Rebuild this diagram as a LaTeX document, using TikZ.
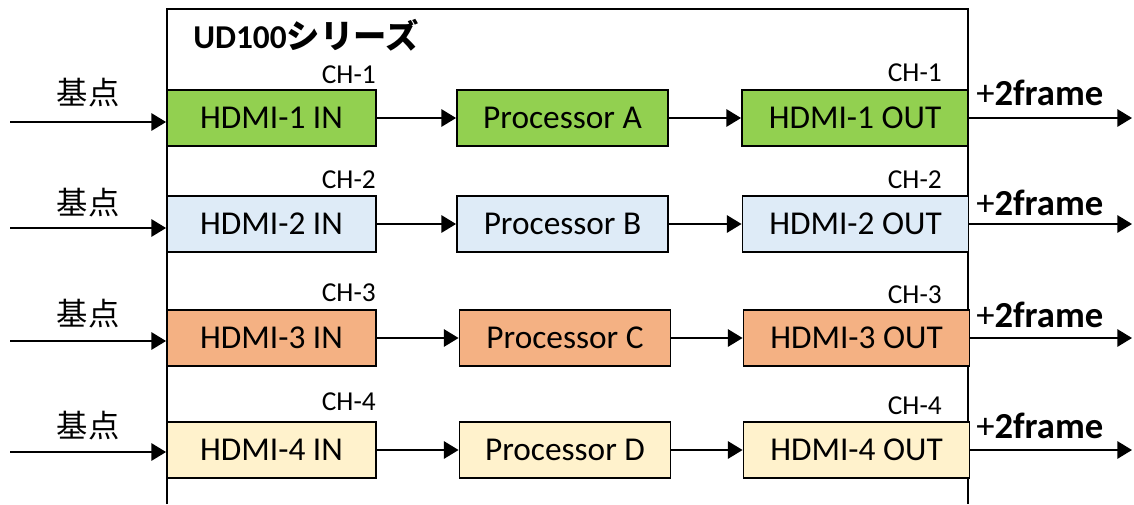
\documentclass[tikz,border=0pt]{standalone}
\usepackage{fontspec}
\setmainfont{Carlito}
\newfontfamily\cjk{Noto Sans CJK JP}
\usetikzlibrary{arrows.meta}
\definecolor{cgreen}{HTML}{92D050}
\definecolor{cblue}{HTML}{DEEBF7}
\definecolor{corange}{HTML}{F4B183}
\definecolor{cyellow}{HTML}{FFF2CC}
\tikzset{
  blk/.style={draw=black, line width=1.4pt, minimum height=42pt, inner sep=0pt, font=\fontsize{25}{29}\selectfont},
  inbox/.style={blk, minimum width=156.75pt},
  procbox/.style={blk, minimum width=158.25pt},
  outbox/.style={blk, minimum width=169.5pt},
  conn/.style={line width=1.4pt, -{Triangle[length=11pt,width=13pt]}},
  chlab/.style={anchor=east, inner sep=0pt, font=\fontsize{20.5}{23}\selectfont},
  kiten/.style={inner sep=0pt, font=\cjk\fontsize{23.5}{26}\selectfont},
  frm/.style={anchor=west, inner sep=0pt, font=\bfseries\fontsize{27.5}{30}\selectfont},
  frame/.style={line width=1.4pt}
}
\begin{document}
\begin{tikzpicture}[x=0.75pt,y=-0.75pt]
\useasboundingbox (0,0) rectangle (1134,504);
% outer frame
\draw[frame] (167,504) -- (167,9) -- (968,9) -- (968,504);
\node[anchor=west, inner sep=0pt, font=\bfseries\fontsize{25}{28}\selectfont] (title) at (193,35) {UD100{\cjk シリーズ}};
% rows
\foreach \i/\y/\col/\p/\px/\ox/\chy/\chyo/\ky/\fy/\ay in {
  1/118/cgreen/A/562.5/855/75/73/93/93/122,
  2/224/cblue/B/562.5/855.5/180/180/203/203/228,
  3/338/corange/C/565/856.5/293/295/314/315/341,
  4/450/cyellow/D/565/856.5/402/406/426/426/452}{
  \node[inbox, fill=\col] (in\i) at (271.5,\y) {HDMI-\i\ IN};
  \node[procbox, fill=\col] (pr\i) at (\px,\y) {Processor \p};
  \node[outbox, fill=\col] (out\i) at (\ox,\y) {HDMI-\i\ OUT};
  \node[chlab] (chin\i) at (376,\chy) {CH-\i};
  \node[chlab] (chout\i) at (942,\chyo) {CH-\i};
  \node[kiten] (k\i) at (88,\ky) {基点};
  \node[frm] (f\i) at (976,\fy) {{\mdseries +}2frame};
  \coordinate (s\i) at (10,\ay);
  \coordinate (e\i) at (1132,\y);
  \draw[conn] (s\i) -- (s\i -| in\i.west);
  \draw[conn] (in\i) -- (pr\i);
  \draw[conn] (pr\i) -- (out\i);
  \draw[conn] (out\i.east) -- (e\i);
}
\end{tikzpicture}
\end{document}
